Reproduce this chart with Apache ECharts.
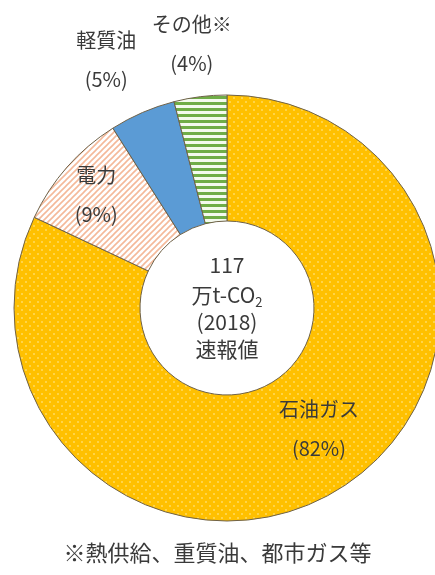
<!DOCTYPE html>
<html>
<head>
<meta charset="utf-8">
<script src="https://cdn.jsdelivr.net/npm/echarts@6/dist/echarts.min.js"></script>
<style>
  html, body { margin: 0; padding: 0; background: #fff; }
  #chart { width: 435px; height: 575px; }
</style>
</head>
<body>
<div id="chart"></div>
<script>
// 部門別排出量の内訳
const categories = ['石油ガス', '電力', '軽質油', 'その他※']
const shares = [82, 9, 5, 4]
const centerLines = ['117', '万t-CO', '(2018)', '速報値']
const footnote = '※熱供給、重質油、都市ガス等'

const FONT = '"Noto Sans CJK JP", "Noto Sans", sans-serif'

// 塗りつぶしパターン
function makePattern(size, draw) {
  const c = document.createElement('canvas')
  c.width = size
  c.height = size
  draw(c.getContext('2d'), size)
  return { image: c, repeat: 'repeat' }
}

const dotFill = makePattern(8, (ctx, s) => {
  ctx.fillStyle = '#FFC000'
  ctx.fillRect(0, 0, s, s)
  ctx.fillStyle = 'rgba(255,225,120,0.6)'
  ctx.fillRect(1, 1, 2, 2)
  ctx.fillRect(5, 5, 2, 2)
})

const diagFill = makePattern(6, (ctx, s) => {
  ctx.fillStyle = '#fff'
  ctx.fillRect(0, 0, s, s)
  ctx.strokeStyle = '#F4B99A'
  ctx.lineWidth = 1.6
  ctx.beginPath()
  ctx.moveTo(-1, s + 1); ctx.lineTo(s + 1, -1)
  ctx.moveTo(-1, 1); ctx.lineTo(1, -1)
  ctx.moveTo(s - 1, s + 1); ctx.lineTo(s + 1, s - 1)
  ctx.stroke()
})

const stripeFill = makePattern(6, (ctx, s) => {
  ctx.fillStyle = '#F4FAEE'
  ctx.fillRect(0, 0, s, s)
  ctx.fillStyle = '#70AD47'
  ctx.fillRect(0, 0, s, 3)
})

const fills = [dotFill, diagFill, '#5B9BD5', stripeFill]
// ラベル位置の微調整
const labelShift = [[10, -8], [-16, -12], [-60, -108], [-16, -112]]

const chart = echarts.init(document.getElementById('chart'))
chart.setOption({
  animation: false,
  graphic: [
    {
      type: 'text',
      x: 227,
      y: 248,
      style: {
        text: '{a|' + centerLines[0] + '}\n{b|' + centerLines[1] + '}{s|2}\n{b|' + centerLines[2] + '}\n{b|' + centerLines[3] + '}',
        align: 'center',
        fill: '#3a3a3a',
        font: '21px ' + FONT,
        rich: {
          a: { fontSize: 21, lineHeight: 34, fontFamily: FONT, color: '#3a3a3a' },
          b: { fontSize: 21, lineHeight: 27, fontFamily: FONT, color: '#3a3a3a' },
          s: { fontSize: 13, lineHeight: 27, fontFamily: FONT, color: '#3a3a3a', verticalAlign: 'bottom', padding: [10, 0, 0, 0] }
        }
      }
    },
    {
      type: 'text',
      left: 'center',
      top: 542,
      style: {
        text: footnote,
        fill: '#3a3a3a',
        font: '22px ' + FONT
      }
    }
  ],
  series: [
    {
      type: 'pie',
      center: [227, 308],
      radius: [87, 213],
      startAngle: 90,
      clockwise: true,
      data: categories.map((name, i) => ({
        name,
        value: shares[i],
        itemStyle: { color: fills[i] }
      })),
      itemStyle: {
        borderColor: '#6E6148',
        borderWidth: 1
      },
      label: {
        show: true,
        position: 'inside',
        formatter: p => p.name + '\n(' + p.value + '%)',
        fontFamily: FONT,
        fontSize: 20,
        lineHeight: 39,
        color: '#3a3a3a'
      },
      labelLine: { show: false },
      labelLayout: p => ({ dx: labelShift[p.dataIndex][0], dy: labelShift[p.dataIndex][1] }),
      emphasis: { disabled: true }
    }
  ]
})
</script>
</body>
</html>
